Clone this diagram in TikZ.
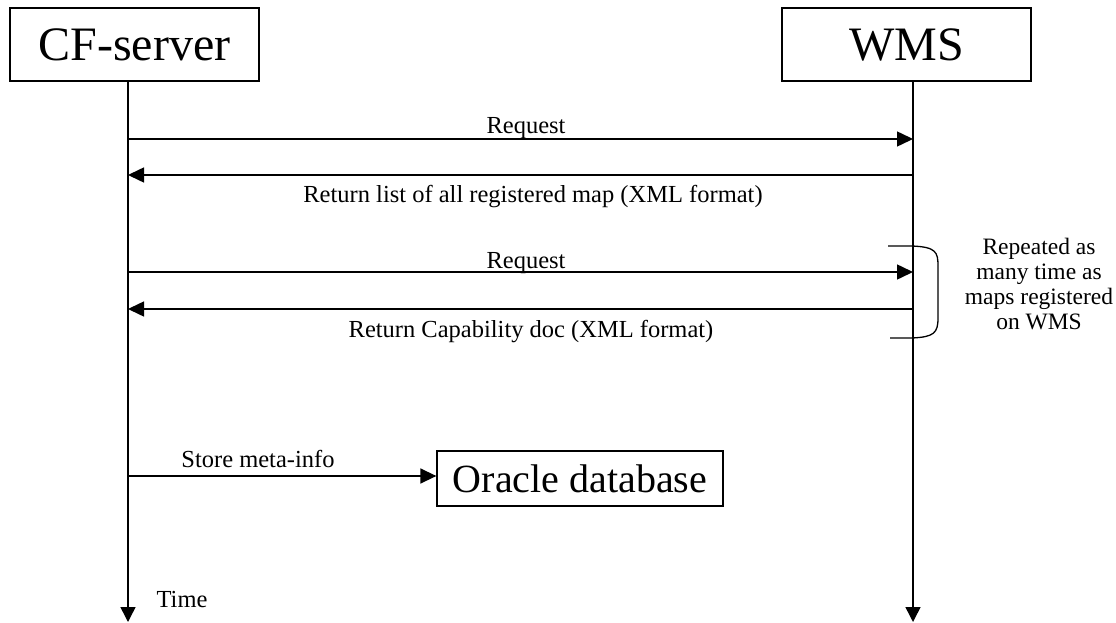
\documentclass[tikz,border=0pt]{standalone}
\usepackage{fontspec}
\setmainfont{Liberation Serif}
\usetikzlibrary{arrows.meta}
\begin{document}
\begin{tikzpicture}[x=1pt,y=-1pt,
  line width=1.5pt,
  party/.style={draw, line width=1.3pt, inner sep=0pt, font=\fontsize{48}{58}\selectfont},
  msglabel/.style={inner sep=0pt, anchor=base, font=\fontsize{24.5}{28}\selectfont},
  msg/.style={-{Triangle[length=16pt,width=15pt]}},
  lifeline/.style={-{Triangle[length=15pt,width=15pt]}}]
\useasboundingbox (0,0) rectangle (1116,623);

% participants
\node[party, minimum width=249pt, minimum height=73pt] (cf) at (134.5,44.5) {CF-server};
\node[party, minimum width=249pt, minimum height=73pt] (wms) at (906.5,44.5) {WMS};
\node[party, minimum width=286pt, minimum height=55pt, font=\fontsize{40}{48}\selectfont] (db) at (580,478.5) {Oracle database};

% lifelines
\coordinate (cftop) at (128,81);
\coordinate (cfend) at (128,622);
\coordinate (wmstop) at (913,81);
\coordinate (wmsend) at (913,622);
\draw[lifeline] (cftop) -- (cfend);
\draw[lifeline] (wmstop) -- (wmsend);
\node[msglabel] (time) at (182,607) {Time};

% message anchors on the lifelines
\coordinate (c1) at (128,139); \coordinate (w1) at (913,139);
\coordinate (c2) at (128,175); \coordinate (w2) at (913,175);
\coordinate (c3) at (128,272); \coordinate (w3) at (913,272);
\coordinate (c4) at (128,309); \coordinate (w4) at (913,309);
\coordinate (c5) at (128,476);

% messages
\draw[msg] (c1) -- (w1);
\node[msglabel] (l1) at (526,134) {Request};
\draw[msg] (w2) -- (c2);
\node[msglabel] (l2) at (533,202) {Return list of all registered map (XML format)};
\draw[msg] (c3) -- (w3);
\node[msglabel] (l3) at (526,268) {Request};
\draw[msg] (w4) -- (c4);
\node[msglabel] (l4) at (531,337) {Return Capability doc (XML format)};
\draw[msg] (c5) -- (db.west |- c5);
\node[msglabel] (l5) at (258,467) {Store meta-info};

% repetition bracket
\coordinate (btop) at (888,246);
\coordinate (bbot) at (890,338);
\draw[line width=1.3pt] (btop) -- (912,246) .. controls (936,247) and (938,252) .. (938,266)
  -- (938,318) .. controls (938,333) and (934,337) .. (912,338) -- (bbot);
\node[inner sep=0pt, align=center, font=\fontsize{23.5}{25}\selectfont] (rep) at (1039,284)
  {Repeated as\\many time as\\maps registered\\on WMS};
\end{tikzpicture}
\end{document}
